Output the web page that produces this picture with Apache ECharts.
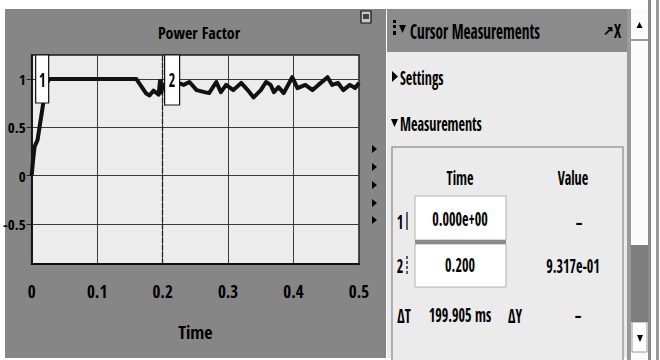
<!DOCTYPE html>
<html><head><meta charset="utf-8">
<script src="https://cdn.jsdelivr.net/npm/echarts@6/dist/echarts.min.js"></script>
<style>html,body{margin:0;padding:0;background:#fff}#c{width:660px;height:360px}</style>
</head><body><div id="c"></div>
<script>
// ---- data ----
const timeData = [0, 0.002, 0.0045, 0.009, 0.017, 0.022, 0.027, 0.16, 0.168, 0.175, 0.18, 0.186, 0.19, 0.194, 0.196, 0.198, 0.2, 0.206, 0.215, 0.224, 0.232, 0.241, 0.252, 0.264, 0.271, 0.282, 0.289, 0.297, 0.308, 0.32, 0.33, 0.339, 0.35, 0.358, 0.365, 0.37, 0.377, 0.385, 0.398, 0.406, 0.418, 0.429, 0.438, 0.452, 0.459, 0.468, 0.476, 0.486, 0.494, 0.5];
const pfData   = [0, 0.15, 0.30, 0.37, 0.72, 0.95, 1.0, 1.0, 0.92, 0.85, 0.83, 0.88, 0.86, 0.84, 0.98, 0.86, 0.93, 0.96, 0.90, 0.96, 0.94, 0.97, 0.886, 0.865, 0.855, 0.97, 0.865, 0.94, 0.886, 0.96, 0.886, 0.81, 0.886, 0.97, 0.94, 0.865, 0.917, 0.855, 1.02, 0.907, 0.94, 0.886, 0.94, 1.02, 0.94, 0.96, 0.886, 0.94, 0.907, 0.96];
const xTicks = [0, 0.1, 0.2, 0.3, 0.4, 0.5];
const yTicks = [-0.5, 0, 0.5, 1];
const cursorTimes = [0, 0.2];
const cursorLabels = ['1', '2'];
const cursorTimeText = ['0.000e+00', '0.200'];
const cursorValueText = ['\u2013', '9.317e-01'];
const deltaTText = '199.905 ms';
const deltaYText = '\u2013';
const chartTitle = 'Power Factor';
const xName = 'Time';

// pick the narrowest installed sans family
const cv = document.createElement('canvas').getContext('2d');
function measure(s, size, fam, weight) { cv.font = (weight || 'normal') + ' ' + size + 'px ' + fam; return cv.measureText(s).width; }
const candidates = ["'Liberation Sans Narrow'", "'DejaVu Sans Condensed'", "'Roboto Condensed'", "'Noto Sans Condensed'", "'Open Sans Condensed'", "'Arial Narrow'", "Roboto", "'Liberation Sans'"];
let F = "'Liberation Sans'", best = 1e9;
candidates.forEach(c => { const w = measure('Power Factor Measurements', 20, c + ', monospace'); if (w < best - 0.5) { best = w; F = c; } });
F = F + ", 'Liberation Sans', sans-serif";
const sx = 82 / measure('Measurements', 18, F);
const sxB = 130 / measure('Cursor Measurements', 18, F, 'bold');

const chart = echarts.init(document.getElementById('c'), null, {renderer: 'svg'});
const seriesData = timeData.map((t, i) => [t, pfData[i]]);

chart.setOption({
  animation: false,
  backgroundColor: '#ffffff',
  title: {text: chartTitle, left: 194, top: 20, textAlign: 'center',
    textStyle: {fontFamily: F, fontSize: 16, fontWeight: 'normal', color: '#000'}},
  grid: {left: 29, top: 55, width: 330, height: 209, show: true, backgroundColor: '#ececec',
    borderColor: '#1a1a1a', borderWidth: 1.5, containLabel: false},
  xAxis: {type: 'value', min: 0, max: 0.5, interval: 0.1,
    axisLine: {show: true, onZero: false, lineStyle: {color: '#111', width: 2}},
    axisTick: {show: false},
    axisLabel: {margin: 19, fontFamily: F, fontSize: 17, color: '#000',
      formatter: v => String(Math.round(v * 10) / 10)},
    splitLine: {show: true, lineStyle: {color: '#3a3a3a', width: 1}},
    name: xName, nameLocation: 'middle', nameGap: 59,
    nameTextStyle: {fontFamily: F, fontSize: 18, color: '#000'}},
  yAxis: {type: 'value', min: -0.917, max: 1.25,
    axisLine: {show: true, lineStyle: {color: '#111', width: 1.5}},
    axisTick: {show: true, customValues: yTicks, length: 5, inside: false, lineStyle: {color: '#222'}},
    axisLabel: {customValues: yTicks, margin: 6, fontFamily: F, fontSize: 15, color: '#000',
      formatter: v => String(v)},
    splitLine: {show: true, lineStyle: {color: '#3a3a3a', width: 1}}},
  series: [{
    type: 'line', data: seriesData, showSymbol: false, z: 5,
    lineStyle: {color: '#111', width: 4, join: 'round'}, clip: true,
    markLine: {symbol: 'none', silent: true, label: {show: false}, animation: false,
      data: [
        {xAxis: cursorTimes[0], lineStyle: {type: 'solid', color: '#111', width: 1.5}},
        {xAxis: cursorTimes[1], lineStyle: {type: [5, 2], color: '#222', width: 1.3}}
      ]}
  }]
});

const yTop = chart.convertToPixel({gridIndex: 0}, [0, 1.25])[1];
const c1 = chart.convertToPixel({gridIndex: 0}, [cursorTimes[0], 1.25])[0];
const c2 = chart.convertToPixel({gridIndex: 0}, [cursorTimes[1], 1.25])[0];

function txt(x, y, s, size, align, bold, scale) {
  return {type: 'text', x: x, y: y, z: 20, scaleX: scale || (bold ? sxB : sx) * 18 / size,
    style: {text: s, fontFamily: F, fontSize: size, fill: '#000', fontWeight: bold ? 'bold' : 'normal',
      align: align || 'left', verticalAlign: 'middle'}};
}
function rect(x, y, w, h, fill, stroke, lw, z) {
  return {type: 'rect', z: z == null ? 15 : z, shape: {x: x, y: y, width: w, height: h},
    style: {fill: fill, stroke: stroke || null, lineWidth: lw || 0}};
}
function tri(points, z) {
  return {type: 'polygon', z: z == null ? 20 : z, shape: {points: points}, style: {fill: '#000'}};
}

const g = [];
// left scope panel
g.push(rect(5, 9, 381, 349, '#868686', null, 0, -10));
// dock icon
g.push(rect(361, 11, 10, 12, '#c8c8c8', '#111', 1.2, 20));
g.push(rect(363, 14, 6, 5, '#444', null, 0, 21));
// side triangles
[149, 167, 185, 203, 220].forEach(y => g.push(tri([[372, y - 4], [377, y], [372, y + 4]])));
// cursor boxes
g.push(rect(c1 + 4, yTop, 13, 48, '#ffffff', '#111', 1.2, 30));
g.push(Object.assign(txt(c1 + 10.5, yTop + 24, cursorLabels[0], 20, 'center'), {z: 31}));
g.push(rect(c2 + 2, yTop, 15, 50, '#ffffff', '#111', 1.2, 30));
g.push(Object.assign(txt(c2 + 9.5, yTop + 24, cursorLabels[1], 20, 'center'), {z: 31}));

// right panel
g.push(rect(387, 9, 241, 349, '#ebebeb', null, 0, -10));
g.push(rect(387, 9, 246, 43, '#8b8b8b', null, 0, -9));
g.push(rect(393, 20, 3, 3, '#000'));
g.push(rect(393, 25, 3, 3, '#000'));
g.push(rect(393, 31, 3, 4, '#000'));
g.push(tri([[399, 25], [406, 25], [402.5, 33]]));
g.push(txt(410, 30, 'Cursor Measurements', 21, 'left', true));
g.push(txt(603, 30, '\u2197', 13, 'left', true, 1));
g.push(txt(614, 30, 'X', 20, 'left', true));
g.push(tri([[392, 71], [398, 76.5], [392, 82]]));
g.push(txt(400, 77, 'Settings', 20));
g.push(tri([[391, 119], [398, 119], [394.5, 127]]));
g.push(txt(400, 123, 'Measurements', 20));
g.push(rect(392, 147, 231, 215, '#ebebeb', '#9c9c9c', 1.5, -8));
g.push(txt(460, 177, 'Time', 20, 'center'));
g.push(txt(573, 177, 'Value', 20, 'center'));
// row 1
g.push(txt(400, 221, cursorLabels[0], 20, 'center'));
g.push({type: 'line', z: 20, shape: {x1: 407, y1: 212, x2: 407, y2: 230}, style: {stroke: '#000', lineWidth: 1.2}});
g.push(rect(415, 196, 91, 44, '#ffffff', '#b0b0b0', 1));
g.push(txt(460, 219, cursorTimeText[0], 19, 'center'));
g.push(txt(579, 222, cursorValueText[0], 19, 'center'));
g.push(rect(415, 240, 91, 4, '#8a8a8a', null, 0, 16));
// row 2
g.push(txt(400, 265, cursorLabels[1], 20, 'center'));
g.push({type: 'line', z: 20, shape: {x1: 407, y1: 256, x2: 407, y2: 274}, style: {stroke: '#000', lineWidth: 1.2, lineDash: [3, 2]}});
g.push(rect(415, 244, 91, 43, '#ffffff', '#b0b0b0', 1));
g.push(txt(460, 265, cursorTimeText[1], 19, 'center'));
g.push(txt(573, 266, cursorValueText[1], 19, 'center'));
// row 3
g.push(txt(404, 315, '\u0394T', 20, 'center'));
g.push(txt(460, 315, deltaTText, 19, 'center'));
g.push(txt(515, 315, '\u0394Y', 20, 'center'));
g.push(txt(578, 315, deltaYText, 19, 'center'));
// scrollbar
g.push(rect(627, 9, 4, 351, '#9a9a9a', null, 0, -9));
g.push(rect(631, 9, 17, 351, '#fbfbfb', null, 0, -9));
g.push({type: 'line', z: 20, shape: {x1: 631, y1: 40, x2: 648, y2: 40}, style: {stroke: '#777', lineWidth: 1.5}});
g.push(tri([[636.5, 28], [642.5, 28], [639.5, 22]]));
g.push(rect(631, 245, 17, 77, '#7e7e7e', null, 0, 16));
g.push(rect(632, 322, 15, 30, '#ffffff', '#9a9a9a', 1));
g.push(tri([[637, 335], [643, 335], [640, 342]]));
g.push(rect(648, 0, 3, 360, '#8a8a8a', null, 0, -9));
g.push(rect(656, 0, 3, 360, '#9a9a9a', null, 0, -9));

chart.setOption({graphic: g});
</script>
</body></html>
